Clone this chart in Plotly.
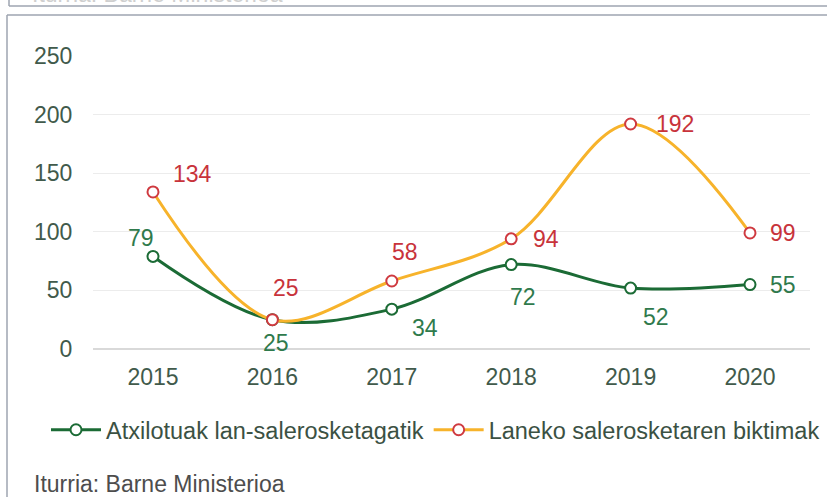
import plotly.graph_objects as go

W, H = 827, 497

years = ["2015", "2016", "2017", "2018", "2019", "2020"]
arrested = [79, 25, 34, 72, 52, 55]
victims = [134, 25, 58, 94, 192, 99]
name_arrested = "Atxilotuak lan-salerosketagatik"
name_victims = "Laneko salerosketaren biktimak"
source_text = "Iturria: Barne Ministerioa"
y_ticks = [0, 50, 100, 150, 200, 250]

# label offsets in pixels (style only)
off_arrested = [(-12, 18), (4, -23), (33, -19), (12, -32), (25, -29), (33, 0)]
off_victims = [(39, 18), (14, 32), (13, 29), (35, 0), (44, 0), (33, 0)]

GREEN = "#1b6b35"
ORANGE = "#f7b32b"
RED = "#cf3a40"
GREEN_TXT = "#2f7a4c"
RED_TXT = "#c8333b"
AXIS_TXT = "#415a4b"
FONT = "Liberation Sans, Arial, sans-serif"

def px_x(p):
    return p / W

def px_y(p):
    return 1 - p / H

fig = go.Figure()
fig.add_trace(go.Scatter(
    x=years, y=arrested, name=name_arrested, mode="lines+markers",
    line=dict(color=GREEN, width=3, shape="spline", smoothing=1),
    marker=dict(symbol="circle", size=11, color="white", line=dict(color=GREEN, width=2)),
))
fig.add_trace(go.Scatter(
    x=years, y=victims, name=name_victims, mode="lines+markers",
    line=dict(color=ORANGE, width=3, shape="spline", smoothing=1),
    marker=dict(symbol="circle", size=11, color="white", line=dict(color=RED, width=2)),
))

annotations = []
for i, (v, (dx, dy)) in enumerate(zip(arrested, off_arrested)):
    annotations.append(dict(x=i, y=v, xref="x", yref="y", text=str(v), showarrow=False,
                            xshift=dx, yshift=dy, font=dict(size=23, color=GREEN_TXT, family=FONT)))
for i, (v, (dx, dy)) in enumerate(zip(victims, off_victims)):
    annotations.append(dict(x=i, y=v, xref="x", yref="y", text=str(v), showarrow=False,
                            xshift=dx, yshift=dy, font=dict(size=23, color=RED_TXT, family=FONT)))

annotations.append(dict(x=px_x(32), y=px_y(484), xref="paper", yref="paper", text=source_text,
                        showarrow=False, xanchor="left", yanchor="middle",
                        font=dict(size=23, color="#4d4d4d", family=FONT)))
# cut-off text from the box above
annotations.append(dict(x=px_x(30), y=px_y(-6), xref="paper", yref="paper", text=source_text,
                        showarrow=False, xanchor="left", yanchor="middle",
                        font=dict(size=23, color="#cfcfcf", family=FONT)))

BORDER = "#9ea4b0"
shapes = [
    dict(type="line", xref="paper", yref="paper", x0=px_x(9), x1=px_x(W + 5), y0=px_y(6), y1=px_y(6),
         line=dict(color=BORDER, width=1.5)),
    dict(type="line", xref="paper", yref="paper", x0=px_x(9), x1=px_x(9), y0=px_y(-5), y1=px_y(6),
         line=dict(color=BORDER, width=1.5)),
    dict(type="line", xref="paper", yref="paper", x0=px_x(7), x1=px_x(W + 5), y0=px_y(15), y1=px_y(15),
         line=dict(color=BORDER, width=1.5)),
    dict(type="line", xref="paper", yref="paper", x0=px_x(7), x1=px_x(7), y0=px_y(15), y1=px_y(H + 5),
         line=dict(color=BORDER, width=1.5)),
]

fig.update_layout(
    width=W, height=H,
    margin=dict(l=0, r=0, t=0, b=0, autoexpand=False),
    paper_bgcolor="white", plot_bgcolor="white",
    font=dict(family=FONT, size=23, color=AXIS_TXT),
    xaxis=dict(domain=[px_x(93.3), px_x(809.7)], type="category", range=[-0.5, 5.5],
               showgrid=False, showline=False, zeroline=False, ticks="", automargin=False,
               ticklabelstandoff=12, tickfont=dict(size=23, color=AXIS_TXT)),
    yaxis=dict(domain=[px_y(349), px_y(56)], range=[0, 250], tickvals=y_ticks,
               showgrid=True, gridcolor="#ececec", gridwidth=1, automargin=False,
               zeroline=True, zerolinecolor="#d9d9d9", zerolinewidth=1.5,
               showline=False, ticks="", ticklabelstandoff=20,
               tickfont=dict(size=23, color=AXIS_TXT)),
    legend=dict(orientation="h", x=px_x(46), y=px_y(430), xanchor="left", yanchor="middle",
                font=dict(size=23.5, color="#3b5143"), bgcolor="rgba(0,0,0,0)",
                itemwidth=50, tracegroupgap=0),
    annotations=annotations,
    shapes=shapes,
    showlegend=True,
)

fig.write_html("out.html", config={"displayModeBar": False},
               post_script="document.body.style.margin='0';document.body.style.overflow='hidden';")
